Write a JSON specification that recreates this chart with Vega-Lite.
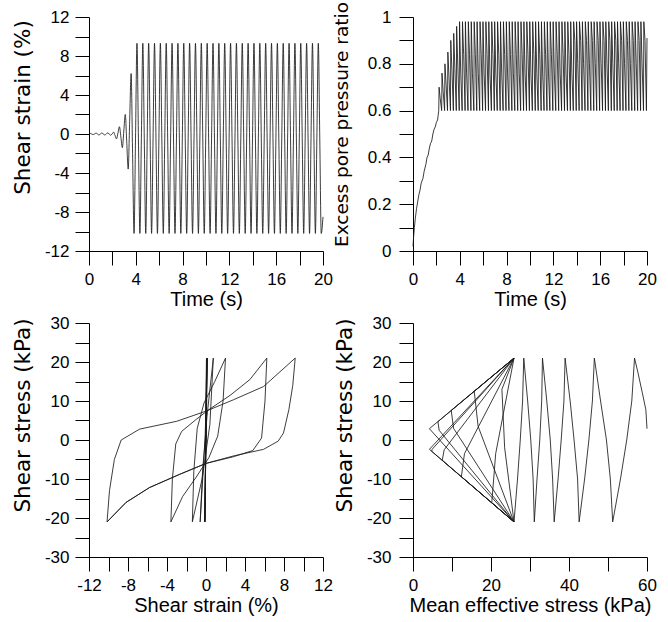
{
"$schema":"https://vega.github.io/schema/vega-lite/v6.json",
"padding":{"left":11,"top":1,"right":5,"bottom":5},
"bounds":"flush",
"columns":2,
"spacing":{"row":72,"column":90},
"config":{"font":"Liberation Sans","view":{"stroke":null},
"axis":{"grid":false,"domainColor":"#000","tickColor":"#000","labelColor":"#000","titleColor":"#000","labelFont":"Liberation Sans","titleFont":"Liberation Sans","labelFontSize":17,"titleFontSize":20,"titleFontWeight":"normal","labelPadding":6,"domainWidth":1,"tickWidth":1,"tickSize":14,"labelFlush":false,"labelOverlap":false},
"axisX":{"titlePadding":2},
"axisY":{"titleFontSize":21.5,"titleFont":"DejaVu Sans"},
"line":{"color":"#1a1a1a","strokeWidth":0.85}},
"datasets":{
"strain":[{"t":0,"v":0},
{"t":0.1,"v":0.06},{"t":0.225,"v":0},{"t":0.35,"v":-0.06},{"t":0.475,"v":0},
{"t":0.6,"v":0.1},{"t":0.725,"v":0},{"t":0.85,"v":-0.1},{"t":0.975,"v":0},
{"t":1.1,"v":0.1},{"t":1.225,"v":0},{"t":1.35,"v":-0.1},{"t":1.475,"v":0},
{"t":1.6,"v":0.12},{"t":1.725,"v":0},{"t":1.85,"v":-0.12},{"t":1.975,"v":0},
{"t":2.1,"v":0.2},{"t":2.225,"v":-0.15},{"t":2.35,"v":-0.5},{"t":2.475,"v":0.1},
{"t":2.6,"v":0.75},{"t":2.725,"v":-0.3},{"t":2.85,"v":-1.4},{"t":2.975,"v":0.3},
{"t":3.1,"v":2.0},{"t":3.225,"v":-0.8},{"t":3.35,"v":-3.6},{"t":3.475,"v":1.3},
{"t":3.6,"v":6.2},{"t":3.725,"v":-2.0},{"t":3.85,"v":-10.2},{"t":3.975,"v":-0.5},
{"t":4.1,"v":9.3},{"t":4.225,"v":-0.5},{"t":4.35,"v":-10.2},{"t":4.475,"v":-0.5},
{"t":4.6,"v":9.3},{"t":4.725,"v":-0.5},{"t":4.85,"v":-10.2},{"t":4.975,"v":-0.5},
{"t":5.1,"v":9.3},{"t":5.225,"v":-0.5},{"t":5.35,"v":-10.2},{"t":5.475,"v":-0.5},
{"t":5.6,"v":9.3},{"t":5.725,"v":-0.5},{"t":5.85,"v":-10.2},{"t":5.975,"v":-0.5},
{"t":6.1,"v":9.3},{"t":6.225,"v":-0.5},{"t":6.35,"v":-10.2},{"t":6.475,"v":-0.5},
{"t":6.6,"v":9.3},{"t":6.725,"v":-0.5},{"t":6.85,"v":-10.2},{"t":6.975,"v":-0.5},
{"t":7.1,"v":9.3},{"t":7.225,"v":-0.5},{"t":7.35,"v":-10.2},{"t":7.475,"v":-0.5},
{"t":7.6,"v":9.3},{"t":7.725,"v":-0.5},{"t":7.85,"v":-10.2},{"t":7.975,"v":-0.5},
{"t":8.1,"v":9.3},{"t":8.225,"v":-0.5},{"t":8.35,"v":-10.2},{"t":8.475,"v":-0.5},
{"t":8.6,"v":9.3},{"t":8.725,"v":-0.5},{"t":8.85,"v":-10.2},{"t":8.975,"v":-0.5},
{"t":9.1,"v":9.3},{"t":9.225,"v":-0.5},{"t":9.35,"v":-10.2},{"t":9.475,"v":-0.5},
{"t":9.6,"v":9.3},{"t":9.725,"v":-0.5},{"t":9.85,"v":-10.2},{"t":9.975,"v":-0.5},
{"t":10.1,"v":9.3},{"t":10.225,"v":-0.5},{"t":10.35,"v":-10.2},{"t":10.475,"v":-0.5},
{"t":10.6,"v":9.3},{"t":10.725,"v":-0.5},{"t":10.85,"v":-10.2},{"t":10.975,"v":-0.5},
{"t":11.1,"v":9.3},{"t":11.225,"v":-0.5},{"t":11.35,"v":-10.2},{"t":11.475,"v":-0.5},
{"t":11.6,"v":9.3},{"t":11.725,"v":-0.5},{"t":11.85,"v":-10.2},{"t":11.975,"v":-0.5},
{"t":12.1,"v":9.3},{"t":12.225,"v":-0.5},{"t":12.35,"v":-10.2},{"t":12.475,"v":-0.5},
{"t":12.6,"v":9.3},{"t":12.725,"v":-0.5},{"t":12.85,"v":-10.2},{"t":12.975,"v":-0.5},
{"t":13.1,"v":9.3},{"t":13.225,"v":-0.5},{"t":13.35,"v":-10.2},{"t":13.475,"v":-0.5},
{"t":13.6,"v":9.3},{"t":13.725,"v":-0.5},{"t":13.85,"v":-10.2},{"t":13.975,"v":-0.5},
{"t":14.1,"v":9.3},{"t":14.225,"v":-0.5},{"t":14.35,"v":-10.2},{"t":14.475,"v":-0.5},
{"t":14.6,"v":9.3},{"t":14.725,"v":-0.5},{"t":14.85,"v":-10.2},{"t":14.975,"v":-0.5},
{"t":15.1,"v":9.3},{"t":15.225,"v":-0.5},{"t":15.35,"v":-10.2},{"t":15.475,"v":-0.5},
{"t":15.6,"v":9.3},{"t":15.725,"v":-0.5},{"t":15.85,"v":-10.2},{"t":15.975,"v":-0.5},
{"t":16.1,"v":9.3},{"t":16.225,"v":-0.5},{"t":16.35,"v":-10.2},{"t":16.475,"v":-0.5},
{"t":16.6,"v":9.3},{"t":16.725,"v":-0.5},{"t":16.85,"v":-10.2},{"t":16.975,"v":-0.5},
{"t":17.1,"v":9.3},{"t":17.225,"v":-0.5},{"t":17.35,"v":-10.2},{"t":17.475,"v":-0.5},
{"t":17.6,"v":9.3},{"t":17.725,"v":-0.5},{"t":17.85,"v":-10.2},{"t":17.975,"v":-0.5},
{"t":18.1,"v":9.3},{"t":18.225,"v":-0.5},{"t":18.35,"v":-10.2},{"t":18.475,"v":-0.5},
{"t":18.6,"v":9.3},{"t":18.725,"v":-0.5},{"t":18.85,"v":-10.2},{"t":18.975,"v":-0.5},
{"t":19.1,"v":9.3},{"t":19.225,"v":-0.5},{"t":19.35,"v":-10.2},{"t":19.475,"v":-0.5},
{"t":19.6,"v":9.3},{"t":19.725,"v":-0.5},{"t":19.85,"v":-10.2},{"t":20,"v":-8.5}],
"ru":[{"t":0,"r":0.02},{"t":0.05,"r":0.06},{"t":0.12,"r":0.1},{"t":0.2,"r":0.14},{"t":0.3,"r":0.18},{"t":0.4,"r":0.21},{"t":0.5,"r":0.24},{"t":0.6,"r":0.26},{"t":0.7,"r":0.29},{"t":0.85,"r":0.31},{"t":0.95,"r":0.34},{"t":1.1,"r":0.37},{"t":1.2,"r":0.4},{"t":1.3,"r":0.41},{"t":1.4,"r":0.44},{"t":1.5,"r":0.46},{"t":1.6,"r":0.47},{"t":1.7,"r":0.5},{"t":1.8,"r":0.52},{"t":1.9,"r":0.53},{"t":2.0,"r":0.55},{"t":2.1,"r":0.56},{"t":2.15,"r":0.58},
{"t":2.2,"r":0.6},{"t":2.23,"r":0.7},{"t":2.33,"r":0.65},
{"t":2.45,"r":0.6},{"t":2.48,"r":0.76},{"t":2.58,"r":0.68},
{"t":2.7,"r":0.6},{"t":2.73,"r":0.8},{"t":2.83,"r":0.71},
{"t":2.95,"r":0.6},{"t":2.98,"r":0.85},{"t":3.08,"r":0.74},
{"t":3.2,"r":0.6},{"t":3.23,"r":0.9},{"t":3.33,"r":0.77},
{"t":3.45,"r":0.6},{"t":3.48,"r":0.93},{"t":3.58,"r":0.78},
{"t":3.7,"r":0.6},{"t":3.73,"r":0.96},{"t":3.83,"r":0.79},
{"t":3.95,"r":0.6},{"t":3.98,"r":0.98},{"t":4.08,"r":0.76},
{"t":4.2,"r":0.6},{"t":4.23,"r":0.98},{"t":4.33,"r":0.84},
{"t":4.45,"r":0.6},{"t":4.48,"r":0.98},{"t":4.58,"r":0.76},
{"t":4.7,"r":0.6},{"t":4.73,"r":0.98},{"t":4.83,"r":0.84},
{"t":4.95,"r":0.6},{"t":4.98,"r":0.98},{"t":5.08,"r":0.76},
{"t":5.2,"r":0.6},{"t":5.23,"r":0.98},{"t":5.33,"r":0.84},
{"t":5.45,"r":0.6},{"t":5.48,"r":0.98},{"t":5.58,"r":0.76},
{"t":5.7,"r":0.6},{"t":5.73,"r":0.98},{"t":5.83,"r":0.84},
{"t":5.95,"r":0.6},{"t":5.98,"r":0.98},{"t":6.08,"r":0.76},
{"t":6.2,"r":0.6},{"t":6.23,"r":0.98},{"t":6.33,"r":0.84},
{"t":6.45,"r":0.6},{"t":6.48,"r":0.98},{"t":6.58,"r":0.76},
{"t":6.7,"r":0.6},{"t":6.73,"r":0.98},{"t":6.83,"r":0.84},
{"t":6.95,"r":0.6},{"t":6.98,"r":0.98},{"t":7.08,"r":0.76},
{"t":7.2,"r":0.6},{"t":7.23,"r":0.98},{"t":7.33,"r":0.84},
{"t":7.45,"r":0.6},{"t":7.48,"r":0.98},{"t":7.58,"r":0.76},
{"t":7.7,"r":0.6},{"t":7.73,"r":0.98},{"t":7.83,"r":0.84},
{"t":7.95,"r":0.6},{"t":7.98,"r":0.98},{"t":8.08,"r":0.76},
{"t":8.2,"r":0.6},{"t":8.23,"r":0.98},{"t":8.33,"r":0.84},
{"t":8.45,"r":0.6},{"t":8.48,"r":0.98},{"t":8.58,"r":0.76},
{"t":8.7,"r":0.6},{"t":8.73,"r":0.98},{"t":8.83,"r":0.84},
{"t":8.95,"r":0.6},{"t":8.98,"r":0.98},{"t":9.08,"r":0.76},
{"t":9.2,"r":0.6},{"t":9.23,"r":0.98},{"t":9.33,"r":0.84},
{"t":9.45,"r":0.6},{"t":9.48,"r":0.98},{"t":9.58,"r":0.76},
{"t":9.7,"r":0.6},{"t":9.73,"r":0.98},{"t":9.83,"r":0.84},
{"t":9.95,"r":0.6},{"t":9.98,"r":0.98},{"t":10.08,"r":0.76},
{"t":10.2,"r":0.6},{"t":10.23,"r":0.98},{"t":10.33,"r":0.84},
{"t":10.45,"r":0.6},{"t":10.48,"r":0.98},{"t":10.58,"r":0.76},
{"t":10.7,"r":0.6},{"t":10.73,"r":0.98},{"t":10.83,"r":0.84},
{"t":10.95,"r":0.6},{"t":10.98,"r":0.98},{"t":11.08,"r":0.76},
{"t":11.2,"r":0.6},{"t":11.23,"r":0.98},{"t":11.33,"r":0.84},
{"t":11.45,"r":0.6},{"t":11.48,"r":0.98},{"t":11.58,"r":0.76},
{"t":11.7,"r":0.6},{"t":11.73,"r":0.98},{"t":11.83,"r":0.84},
{"t":11.95,"r":0.6},{"t":11.98,"r":0.98},{"t":12.08,"r":0.76},
{"t":12.2,"r":0.6},{"t":12.23,"r":0.98},{"t":12.33,"r":0.84},
{"t":12.45,"r":0.6},{"t":12.48,"r":0.98},{"t":12.58,"r":0.76},
{"t":12.7,"r":0.6},{"t":12.73,"r":0.98},{"t":12.83,"r":0.84},
{"t":12.95,"r":0.6},{"t":12.98,"r":0.98},{"t":13.08,"r":0.76},
{"t":13.2,"r":0.6},{"t":13.23,"r":0.98},{"t":13.33,"r":0.84},
{"t":13.45,"r":0.6},{"t":13.48,"r":0.98},{"t":13.58,"r":0.76},
{"t":13.7,"r":0.6},{"t":13.73,"r":0.98},{"t":13.83,"r":0.9},
{"t":13.95,"r":0.6},{"t":13.98,"r":0.98},{"t":14.08,"r":0.8},
{"t":14.2,"r":0.6},{"t":14.23,"r":0.98},{"t":14.33,"r":0.9},
{"t":14.45,"r":0.6},{"t":14.48,"r":0.98},{"t":14.58,"r":0.8},
{"t":14.7,"r":0.6},{"t":14.73,"r":0.98},{"t":14.83,"r":0.9},
{"t":14.95,"r":0.6},{"t":14.98,"r":0.98},{"t":15.08,"r":0.8},
{"t":15.2,"r":0.6},{"t":15.23,"r":0.98},{"t":15.33,"r":0.9},
{"t":15.45,"r":0.6},{"t":15.48,"r":0.98},{"t":15.58,"r":0.8},
{"t":15.7,"r":0.6},{"t":15.73,"r":0.98},{"t":15.83,"r":0.9},
{"t":15.95,"r":0.6},{"t":15.98,"r":0.98},{"t":16.08,"r":0.8},
{"t":16.2,"r":0.6},{"t":16.23,"r":0.98},{"t":16.33,"r":0.9},
{"t":16.45,"r":0.6},{"t":16.48,"r":0.98},{"t":16.58,"r":0.8},
{"t":16.7,"r":0.6},{"t":16.73,"r":0.98},{"t":16.83,"r":0.9},
{"t":16.95,"r":0.6},{"t":16.98,"r":0.98},{"t":17.08,"r":0.8},
{"t":17.2,"r":0.6},{"t":17.23,"r":0.98},{"t":17.33,"r":0.9},
{"t":17.45,"r":0.6},{"t":17.48,"r":0.98},{"t":17.58,"r":0.8},
{"t":17.7,"r":0.6},{"t":17.73,"r":0.98},{"t":17.83,"r":0.9},
{"t":17.95,"r":0.6},{"t":17.98,"r":0.98},{"t":18.08,"r":0.8},
{"t":18.2,"r":0.6},{"t":18.23,"r":0.98},{"t":18.33,"r":0.9},
{"t":18.45,"r":0.6},{"t":18.48,"r":0.98},{"t":18.58,"r":0.8},
{"t":18.7,"r":0.6},{"t":18.73,"r":0.98},{"t":18.83,"r":0.9},
{"t":18.95,"r":0.6},{"t":18.98,"r":0.98},{"t":19.08,"r":0.8},
{"t":19.2,"r":0.6},{"t":19.23,"r":0.98},{"t":19.33,"r":0.9},
{"t":19.45,"r":0.6},{"t":19.48,"r":0.98},{"t":19.58,"r":0.8},
{"t":19.7,"r":0.6},{"t":19.73,"r":0.98},{"t":19.83,"r":0.9},
{"t":19.95,"r":0.6},{"t":20,"r":0.91}],
"ss":[{"o":1,"x":0,"y":0},{"o":2,"x":0.05,"y":21},{"o":3,"x":-0.1,"y":-21},{"o":4,"x":0.07,"y":21},{"o":5,"x":-0.12,"y":-21},{"o":6,"x":0.1,"y":21},{"o":7,"x":-0.14,"y":-21},{"o":8,"x":0.15,"y":21},{"o":9,"x":-0.1,"y":0},{"o":10,"x":-0.6,"y":-21},{"o":11,"x":-0.35,"y":-8},{"o":12,"x":0.1,"y":6},{"o":13,"x":0.75,"y":21},{"o":14,"x":0.4,"y":4},{"o":15,"x":-0.4,"y":-10},{"o":16,"x":-1.4,"y":-21},{"o":17,"x":-1.25,"y":-8},{"o":18,"x":-0.9,"y":3},{"o":19,"x":-0.2,"y":9.5},{"o":20,"x":0.9,"y":15},{"o":21,"x":2.0,"y":21},{"o":22,"x":1.75,"y":10},{"o":23,"x":1.2,"y":1},{"o":24,"x":0.3,"y":-4.5},{"o":25,"x":-1.0,"y":-9.5},{"o":26,"x":-2.4,"y":-14.5},{"o":27,"x":-3.6,"y":-21},{"o":28,"x":-3.45,"y":-10},{"o":29,"x":-3.1,"y":-1},{"o":30,"x":-2.5,"y":2.2},{"o":31,"x":-1,"y":5.3},{"o":32,"x":0.3,"y":7.8},{"o":33,"x":2.5,"y":11.5},{"o":34,"x":4.5,"y":15.5},{"o":35,"x":6.24,"y":21},{"o":36,"x":6.05,"y":10},{"o":37,"x":5.7,"y":0.5},{"o":38,"x":4.8,"y":-2.7},{"o":39,"x":2.8,"y":-4.3},{"o":40,"x":0,"y":-6},{"o":41,"x":-2.7,"y":-8.8},{"o":42,"x":-5.8,"y":-12.2},{"o":43,"x":-8.2,"y":-16},{"o":44,"x":-10.15,"y":-21},{"o":45,"x":-9.9,"y":-13},{"o":46,"x":-9.4,"y":-5},{"o":47,"x":-8.7,"y":0},{"o":48,"x":-6.8,"y":2.8},{"o":49,"x":-3,"y":4.8},{"o":50,"x":0,"y":7.4},{"o":51,"x":2.8,"y":10.3},{"o":52,"x":5.9,"y":13.7},{"o":53,"x":9.15,"y":21},{"o":54,"x":8.9,"y":14},{"o":55,"x":8.5,"y":7.8},{"o":56,"x":7.95,"y":1.8},{"o":57,"x":7.4,"y":-0.3},{"o":58,"x":5.9,"y":-2.4},{"o":59,"x":2.8,"y":-4.1},{"o":60,"x":0,"y":-6},{"o":61,"x":-2.7,"y":-8.8},{"o":62,"x":-5.8,"y":-12.2},{"o":63,"x":-8.2,"y":-16},{"o":64,"x":-10.15,"y":-21}],
"sp":[{"o":1,"p":60,"q":2.9},{"o":2,"p":59.7,"q":7.8},{"o":3,"p":58.8,"q":12.1},{"o":4,"p":57.7,"q":17.2},{"o":5,"p":56.8,"q":21},
{"o":6,"p":56.1,"q":10},{"o":7,"p":54.8,"q":0},{"o":8,"p":53.2,"q":-10},{"o":9,"p":51.2,"q":-21},
{"o":10,"p":50.6,"q":-10},{"o":11,"p":49.6,"q":0},{"o":12,"p":48.1,"q":10},{"o":13,"p":46.5,"q":21},
{"o":14,"p":46.0,"q":10},{"o":15,"p":45.1,"q":0},{"o":16,"p":44.0,"q":-10},{"o":17,"p":42.6,"q":-21},
{"o":18,"p":42.2,"q":-10},{"o":19,"p":41.3,"q":0},{"o":20,"p":40.3,"q":10},{"o":21,"p":39.0,"q":21},
{"o":22,"p":38.7,"q":10},{"o":23,"p":38.0,"q":0},{"o":24,"p":37.2,"q":-10},{"o":25,"p":36.2,"q":-21},
{"o":26,"p":35.8,"q":-10},{"o":27,"p":35.2,"q":0},{"o":28,"p":34.3,"q":10},{"o":29,"p":33.2,"q":21},
{"o":30,"p":33.0,"q":10},{"o":31,"p":32.5,"q":0},{"o":32,"p":31.8,"q":-10},{"o":33,"p":31.1,"q":-21},
{"o":34,"p":30.8,"q":-10},{"o":35,"p":30.2,"q":0},{"o":36,"p":29.4,"q":10},{"o":37,"p":28.4,"q":21},
{"o":38,"p":28.1,"q":10},{"o":39,"p":27.5,"q":0},{"o":40,"p":26.8,"q":-10},{"o":41,"p":25.9,"q":-21},
{"o":42,"p":23.5,"q":-2},{"o":43,"p":22.8,"q":13},{"o":44,"p":25.9,"q":21},
{"o":45,"p":21.2,"q":-3.5},{"o":46,"p":20.2,"q":-16.1},{"o":47,"p":25.9,"q":-21},
{"o":48,"p":16.7,"q":3.5},{"o":49,"p":15.7,"q":12.5},{"o":50,"p":25.9,"q":21},
{"o":51,"p":13.2,"q":-3.5},{"o":52,"p":12.4,"q":-9.4},{"o":53,"p":25.9,"q":-21},
{"o":54,"p":10.4,"q":3},{"o":55,"p":9.8,"q":7.6},{"o":56,"p":25.9,"q":21},
{"o":57,"p":8,"q":-2.5},{"o":58,"p":7.5,"q":-5.2},{"o":59,"p":25.9,"q":-21},
{"o":60,"p":6.7,"q":2.5},{"o":61,"p":6.4,"q":4.7},{"o":62,"p":25.9,"q":21},
{"o":63,"p":4.9,"q":-2.4},{"o":64,"p":4.8,"q":-2.9},{"o":65,"p":25.9,"q":-21},
{"o":66,"p":4.2,"q":2.9},{"o":67,"p":25.9,"q":21},
{"o":68,"p":4.2,"q":-2.4},{"o":69,"p":25.9,"q":-21}]
},
"concat":[
{"width":234,"height":234,"data":{"name":"strain"},"mark":{"type":"line","interpolate":"monotone"},
"encoding":{"x":{"field":"t","type":"quantitative","scale":{"domain":[0,20],"nice":false},"axis":{"title":"Time (s)","values":[0,2,4,6,8,10,12,14,16,18,20],"labelExpr":"datum.value % 4 == 0 ? '' + datum.value : ''","encode":{"ticks":{"update":{"y2":{"signal":"datum.value % 4 == 0 ? 14 : 7"}}}}}},
"y":{"field":"v","type":"quantitative","scale":{"domain":[-12,12],"nice":false},"axis":{"title":"Shear strain (%)","titleX":-55,"titleY":90,"values":[-12,-10,-8,-6,-4,-2,0,2,4,6,8,10,12],"labelExpr":"datum.value % 4 == 0 ? '' + datum.value : ''","encode":{"ticks":{"update":{"x2":{"signal":"datum.value % 4 == 0 ? -14 : -7"}}}}}}}},
{"width":234,"height":234,"data":{"name":"ru"},"mark":{"type":"line"},
"encoding":{"x":{"field":"t","type":"quantitative","scale":{"domain":[0,20],"nice":false},"axis":{"title":"Time (s)","values":[0,2,4,6,8,10,12,14,16,18,20],"labelExpr":"datum.value % 4 == 0 ? '' + datum.value : ''","encode":{"ticks":{"update":{"y2":{"signal":"datum.value % 4 == 0 ? 14 : 7"}}}}}},
"y":{"field":"r","type":"quantitative","scale":{"domain":[0,1],"nice":false},"axis":{"title":"Excess pore pressure ratio","titleFontSize":18.5,"titleX":-62,"titleY":107,"labelPadding":8,"values":[0,0.1,0.2,0.3,0.4,0.5,0.6,0.7,0.8,0.9,1],"labelExpr":"round(datum.value*10) % 2 == 0 ? '' + datum.value : ''","encode":{"ticks":{"update":{"x2":{"signal":"round(datum.value*10) % 2 == 0 ? -14 : -7"}}}}}}}},
{"width":234,"height":234,"data":{"name":"ss"},"mark":{"type":"line"},
"encoding":{"order":{"field":"o","type":"quantitative"},"x":{"field":"x","type":"quantitative","scale":{"domain":[-12,12],"nice":false},"axis":{"title":"Shear strain (%)","values":[-12,-10,-8,-6,-4,-2,0,2,4,6,8,10,12],"labelExpr":"datum.value % 4 == 0 ? '' + datum.value : ''","encode":{"ticks":{"update":{"y2":{"signal":"datum.value % 4 == 0 ? 14 : 7"}}}}}},
"y":{"field":"y","type":"quantitative","scale":{"domain":[-30,30],"nice":false},"axis":{"title":"Shear stress (kPa)","titleX":-55,"titleY":92,"values":[-30,-25,-20,-15,-10,-5,0,5,10,15,20,25,30],"labelExpr":"datum.value % 10 == 0 ? '' + datum.value : ''","encode":{"ticks":{"update":{"x2":{"signal":"datum.value % 10 == 0 ? -14 : -7"}}}}}}}},
{"width":234,"height":234,"data":{"name":"sp"},"mark":{"type":"line"},
"encoding":{"order":{"field":"o","type":"quantitative"},"x":{"field":"p","type":"quantitative","scale":{"domain":[0,60],"nice":false},"axis":{"title":"Mean effective stress (kPa)","values":[0,10,20,30,40,50,60],"labelExpr":"datum.value % 20 == 0 ? '' + datum.value : ''","encode":{"ticks":{"update":{"y2":{"signal":"datum.value % 20 == 0 ? 14 : 7"}}}}}},
"y":{"field":"q","type":"quantitative","scale":{"domain":[-30,30],"nice":false},"axis":{"title":"Shear stress (kPa)","titleX":-57,"titleY":92,"labelPadding":8,"values":[-30,-25,-20,-15,-10,-5,0,5,10,15,20,25,30],"labelExpr":"datum.value % 10 == 0 ? '' + datum.value : ''","encode":{"ticks":{"update":{"x2":{"signal":"datum.value % 10 == 0 ? -14 : -7"}}}}}}}}
]
}
